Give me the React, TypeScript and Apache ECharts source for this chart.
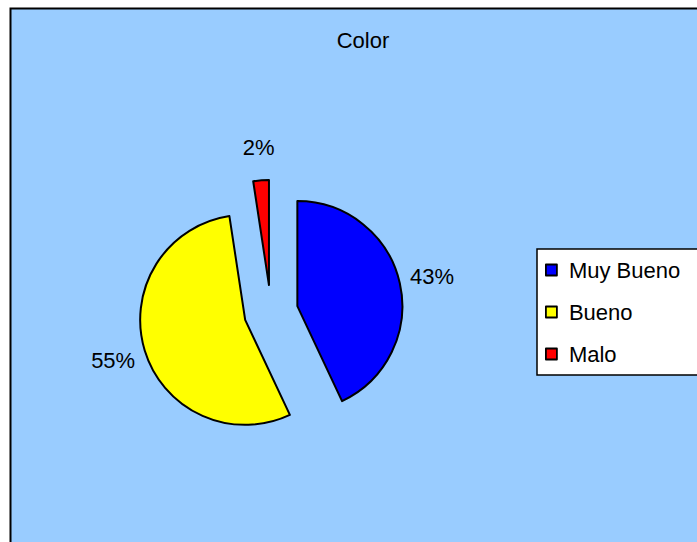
import React, { useEffect, useRef } from "react";
import * as echarts from "echarts";

const categories = ["Muy Bueno", "Bueno", "Malo"];
const values = [43, 54.6, 2.4];
const colors = ["#0000FF", "#FFFF00", "#FF0000"];
const chartTitle = "Color";

const FONT = "Liberation Sans";

export default function App() {
  const ref = useRef<HTMLDivElement>(null);
  useEffect(() => {
    if (!ref.current) return;
    const chart = echarts.init(ref.current, undefined, { renderer: "svg" });
    const center = [271, 312];
    const mainData = categories.map((name, i) => ({
      name,
      value: values[i],
      selected: true,
      itemStyle: { color: colors[i] },
    }));
    const ghostData = categories.map((name, i) => ({
      name,
      value: values[i],
      selected: true,
    }));
    chart.setOption({
      animation: false,
      backgroundColor: "transparent",
      graphic: {
        elements: [
          {
            type: "rect",
            z: -10,
            silent: true,
            shape: { x: 10.5, y: 8.5, width: 720, height: 560 },
            style: { fill: "#99CCFF", stroke: "#000000", lineWidth: 2 },
          },
        ],
      },
      title: {
        text: chartTitle,
        left: 363,
        top: 29,
        textAlign: "center",
        padding: 0,
        textStyle: { fontFamily: FONT, fontSize: 22, fontWeight: "normal", color: "#000" },
      },
      legend: {
        data: categories,
        orient: "vertical",
        left: 537,
        top: 249,
        padding: [10, 30, 10, 8],
        itemGap: 20,
        itemWidth: 11,
        itemHeight: 11,
        icon: "rect",
        backgroundColor: "#FFFFFF",
        borderColor: "#000000",
        borderWidth: 1.5,
        selectedMode: false,
        itemStyle: { borderColor: "#000000", borderWidth: 1.8 },
        textStyle: { fontFamily: FONT, fontSize: 22, color: "#000", padding: [0, 0, 0, 7] },
      },
      series: [
        {
          type: "pie",
          name: "main",
          center,
          radius: [0, 105],
          startAngle: 90,
          clockwise: true,
          selectedMode: "multiple",
          selectedOffset: 27,
          silent: true,
          avoidLabelOverlap: false,
          label: { show: false },
          labelLine: { show: false },
          emphasis: { disabled: true },
          itemStyle: { borderColor: "#000000", borderWidth: 2 },
          data: mainData,
        },
        {
          type: "pie",
          name: "labels",
          center,
          radius: [118, 152],
          startAngle: 90,
          clockwise: true,
          selectedMode: "multiple",
          selectedOffset: 27,
          silent: true,
          avoidLabelOverlap: false,
          itemStyle: { color: "rgba(0,0,0,0)", borderWidth: 0 },
          select: { itemStyle: { color: "rgba(0,0,0,0)", borderWidth: 0 } },
          emphasis: { disabled: true },
          labelLine: { show: false },
          label: {
            show: true,
            position: "inside",
            fontFamily: FONT,
            fontSize: 22,
            color: "#000",
            formatter: (p: any) => Math.round(p.percent) + "%",
          },
          data: ghostData,
        },
      ],
    });
    return () => chart.dispose();
  }, []);
  return (
    <div
      ref={ref}
      style={{ position: "fixed", left: 0, top: 0, width: 697, height: 542, background: "#FFFFFF" }}
    />
  );
}
